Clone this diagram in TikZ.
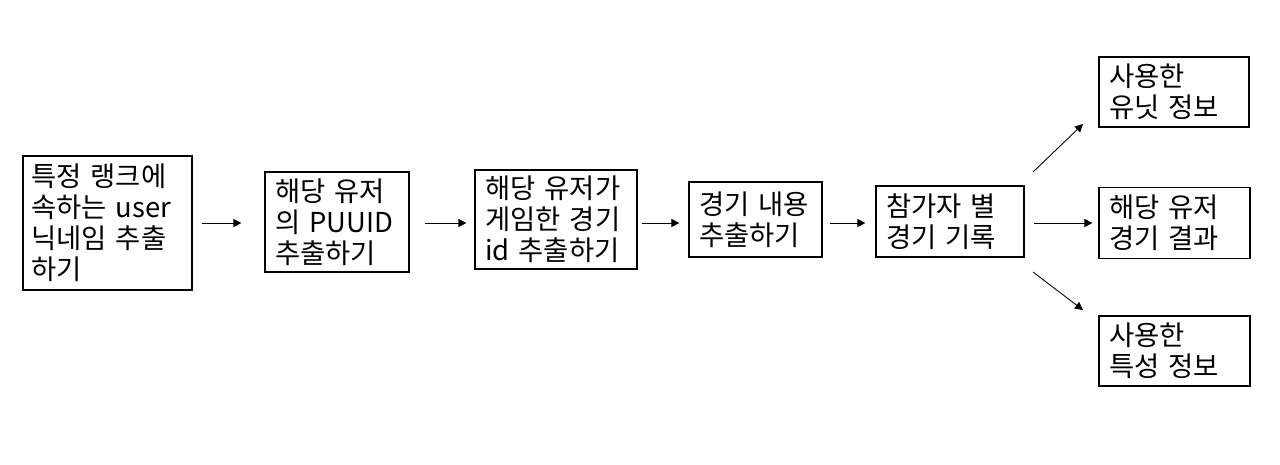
\documentclass[tikz,border=0pt]{standalone}
\usepackage{fontspec}
\setmainfont{Noto Sans CJK KR}
\usetikzlibrary{arrows.meta, positioning, calc}
\tikzset{stage/.style={draw, line width=0.7pt, align=left, inner xsep=0.2cm, inner ysep=0pt}}
\tikzset{flow/.style={-{Triangle[length=0.16cm, width=0.16cm]}, line width=0.5pt}}

\begin{document}
\begin{tikzpicture}[x=0.02cm, y=-0.02cm, font=\fontsize{15.6pt}{17.6pt}\selectfont]
\useasboundingbox (0,0) rectangle (1280,464);

\node[stage, inner xsep=0.16cm, text width=3.06cm, minimum height=2.68cm] (rank) at (107.5,223) {특정 랭크에\\속하는 user\\닉네임 추출\\하기};
\node[stage, text width=2.48cm, minimum height=2.0cm] (puuid) at (337,222) {해당 유저\\의 PUUID\\추출하기};
\node[stage, text width=2.84cm, minimum height=1.98cm] (matchid) at (556,219.5) {해당 유저가\\게임한 경기\\id 추출하기};
\node[stage, text width=2.26cm, minimum height=1.5cm] (detail) at (755.5,219.5) {경기 내용\\추출하기};
\node[stage, text width=2.56cm, minimum height=1.42cm] (record) at (950,221.5) {참가자 별\\경기 기록};

\node[stage, text width=2.6cm, minimum height=1.4cm] (unit) at (1174,92) {사용한\\유닛 정보};
\node[stage, text width=2.62cm, minimum height=1.42cm] (result) at (1174.5,223) {해당 유저\\경기 결과};
\node[stage, text width=2.62cm, minimum height=1.4cm] (trait) at (1174.5,351) {사용한\\특성 정보};

% free ends of the slanted arrows
\coordinate (up0) at (1033,172);
\coordinate (up1) at (1083,124);
\coordinate (dn0) at (1033,272);
\coordinate (dn1) at (1083,310);

\draw[flow, shorten <=0.18cm, shorten >=0.46cm] (rank.east) -- (rank.east -| puuid.west);
\draw[flow, shorten <=0.3cm, shorten >=0.16cm] (puuid.east |- rank.east) -- (matchid.west |- rank.east);
\draw[flow, shorten <=0.08cm, shorten >=0.18cm] (matchid.east |- rank.east) -- (detail.west |- rank.east);
\draw[flow, shorten <=0.14cm, shorten >=0.2cm] (detail.east |- rank.east) -- (record.west |- rank.east);
\draw[flow, shorten <=0.19cm, shorten >=0.12cm] (record.east |- rank.east) -- (result.west |- rank.east);
\draw[flow] (up0) -- (up1);
\draw[flow] (dn0) -- (dn1);
\end{tikzpicture}
\end{document}
